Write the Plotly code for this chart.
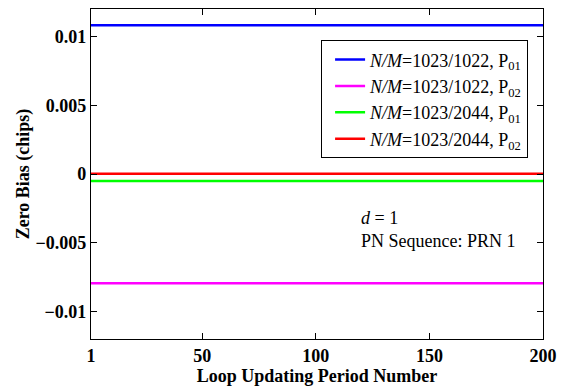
import plotly.graph_objects as go

# Loop updating period numbers and steady zero-bias level of each configuration
periods = list(range(1, 201))
series_names = [
    "<i>N/M</i>=1023/1022, P<sub>01</sub>",
    "<i>N/M</i>=1023/1022, P<sub>02</sub>",
    "<i>N/M</i>=1023/2044, P<sub>01</sub>",
    "<i>N/M</i>=1023/2044, P<sub>02</sub>",
]
bias_levels = [0.01082, -0.00794, -0.00050, 0.00002]
series_colors = ["#0000ff", "#ff00ff", "#00ff00", "#ff0000"]

x_ticks = [1, 50, 100, 150, 200]
y_ticks = [-0.01, -0.005, 0, 0.005, 0.01]
y_tick_text = ["\u22120.01", "\u22120.005", "0", "0.005", "0.01"]

fig = go.Figure()
for name, level, color in zip(series_names, bias_levels, series_colors):
    fig.add_trace(go.Scatter(
        x=periods, y=[level] * len(periods), mode="lines", name=name,
        line=dict(color=color, width=2.5),
    ))

font_family = "Liberation Serif"
axis_common = dict(
    showline=True, linecolor="black", linewidth=1.2, mirror="ticks",
    ticks="inside", ticklen=6, tickcolor="black", showgrid=False, zeroline=False,
    tickfont=dict(family=font_family, size=18, color="black"),
)

fig.update_layout(
    width=571, height=386,
    margin=dict(l=91, r=28, t=8, b=45),
    paper_bgcolor="white", plot_bgcolor="white",
    font=dict(family=font_family, color="black"),
    showlegend=True,
    legend=dict(
        x=0.967, y=0.905, xanchor="right", yanchor="top",
        bgcolor="white", bordercolor="black", borderwidth=1,
        font=dict(family=font_family, size=18, color="black"),
        tracegroupgap=0, indentation=8,
    ),
    xaxis=dict(
        range=[1, 200], tickvals=x_ticks,
        ticktext=["<b>%d</b>" % v for v in x_ticks],
        title=dict(text="<b>Loop Updating Period Number</b>", standoff=0,
                   font=dict(family=font_family, size=18, color="black")),
        **axis_common,
    ),
    yaxis=dict(
        range=[-0.012, 0.012], tickvals=y_ticks,
        ticktext=["<b>%s</b>" % t for t in y_tick_text],
        title=dict(text="<b>Zero Bias (chips)</b>", standoff=1,
                   font=dict(family=font_family, size=18, color="black")),
        **axis_common,
    ),
)

# Parameter notes inside the plot area
fig.add_annotation(
    x=0.595, y=0.332, xref="paper", yref="paper", xanchor="left", yanchor="middle",
    text="<i>d</i> = 1<br>PN Sequence: PRN 1", showarrow=False, align="left",
    font=dict(family=font_family, size=18, color="black"), borderpad=0,
)

fig.write_html("out.html")
